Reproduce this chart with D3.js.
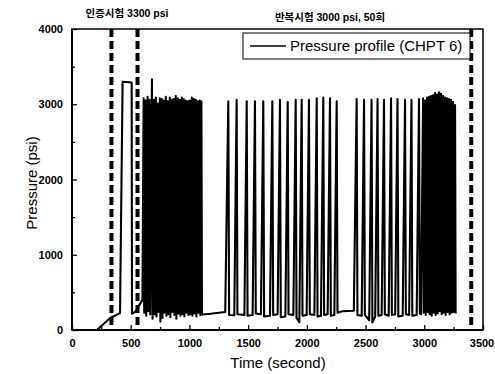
<!DOCTYPE html>
<html>
<head>
<meta charset="utf-8">
<script src="https://cdn.jsdelivr.net/npm/d3@7"></script>
<style>
  body { margin: 0; background: #fff; }
  svg text { font-family: "Liberation Sans", Arial, "Noto Sans CJK KR", sans-serif; fill: #000; }
</style>
</head>
<body>
<div id="chart-container"></div>
<script>
// ticks
const xTicks = [0, 500, 1000, 1500, 2000, 2500, 3000, 3500];
const xMinor = [250, 750, 1250, 1750, 2250, 2750, 3250];
const yTicks = [0, 1000, 2000, 3000, 4000];
const yMinor = [500, 1500, 2500, 3500];

// test boundaries (s)
const boundaryTimes = [336, 558, 3400];

// [time s, pressure psi]
const proofTest = [[213, 0], [325, 160], [409, 225], [431, 3300], [508, 3290], [511, 215], [540, 245], [600, 400]];

const cyclesDenseA = [
  [610, 3080], [615, 230], [627, 3050], [632, 190], [644, 3100], [649, 250], [661, 3060], [666, 210],
  [681, 3330], [686, 150], [697, 3060], [702, 210], [714, 3090], [719, 180], [731, 3010], [736, 240],
  [748, 3080], [753, 110], [765, 3070], [770, 160], [782, 3050], [787, 230], [799, 3100], [804, 190],
  [816, 3040], [821, 210], [833, 3090], [838, 170], [850, 3060], [855, 240], [867, 3070], [872, 200],
  [884, 3110], [889, 150], [901, 3080], [906, 220], [918, 3060], [923, 190], [935, 3090], [940, 210],
  [952, 3070], [957, 180], [969, 3050], [974, 230], [986, 3040], [991, 200], [1003, 3050], [1008, 210],
  [1020, 3090], [1025, 190], [1037, 3070], [1042, 220], [1054, 3060], [1059, 180], [1071, 3040], [1076, 230],
  [1088, 3050], [1093, 200], [1102, 3040], [1107, 205]
];

const holdA = [[1180, 215], [1305, 240]];

const cyclesMid = [
  [1331, 3040], [1338, 200], [1382, 195], [1402, 3060], [1409, 210], [1468, 200], [1488, 3040], [1495, 190],
  [1538, 200], [1558, 3040], [1565, 220], [1609, 210], [1629, 3040], [1636, 180], [1686, 190], [1706, 3040],
  [1713, 200], [1751, 210], [1771, 3060], [1778, 170], [1817, 180], [1837, 3030], [1844, 210], [1885, 200],
  [1905, 3060], [1912, 160], [1936, 105], [1956, 3060], [1963, 190], [1998, 200], [2018, 3060], [2025, 210],
  [2064, 200], [2084, 3080], [2091, 180], [2120, 190], [2140, 3090], [2147, 200], [2177, 210], [2197, 3080],
  [2204, 190], [2234, 200], [2254, 3040], [2261, 230]
];

const holdB = [[2300, 250], [2400, 255]];

const cyclesLate = [
  [2424, 3070], [2431, 200], [2467, 190], [2487, 3060], [2494, 200], [2531, 130], [2551, 3060], [2558, 100],
  [2582, 180], [2602, 3070], [2609, 190], [2637, 200], [2657, 3060], [2664, 210], [2697, 190], [2717, 3080],
  [2724, 200], [2752, 210], [2772, 3070], [2779, 180], [2816, 190], [2836, 3060], [2843, 210], [2871, 200],
  [2891, 3060], [2898, 190], [2935, 200], [2955, 3070], [2962, 220], [2972, 210]
];

const cyclesDenseB = [
  [2990, 3080], [2995, 230], [3007, 3050], [3012, 200], [3024, 3090], [3029, 240], [3041, 3100], [3046, 210],
  [3058, 3110], [3063, 190], [3075, 3120], [3080, 230], [3092, 3150], [3097, 200], [3109, 3130], [3114, 220],
  [3126, 3160], [3131, 250], [3143, 3140], [3148, 210], [3160, 3110], [3165, 230], [3177, 3090], [3182, 200],
  [3194, 3080], [3199, 240], [3211, 3070], [3216, 210], [3228, 3060], [3233, 230], [3245, 3030], [3250, 240],
  [3262, 2990], [3267, 220]
];

const profile = [].concat(proofTest, cyclesDenseA, holdA, cyclesMid, holdB, cyclesLate, cyclesDenseB);

const margin = { top: 29, right: 12, bottom: 44, left: 72 };
const width = 495 - margin.left - margin.right;
const height = 374 - margin.top - margin.bottom;

const root = d3.select("#chart-container").append("svg")
  .attr("width", 495).attr("height", 374);
const svg = root.append("g").attr("transform", `translate(${margin.left},${margin.top})`);

const x = d3.scaleLinear().domain([0, 3500]).range([0, width]);
const y = d3.scaleLinear().domain([0, 4000]).range([height, 0]);

// data line
const line = d3.line().x(d => x(d[0])).y(d => y(d[1]));
svg.append("path").datum(profile)
  .attr("fill", "none").attr("stroke", "#000").attr("stroke-width", 2.1)
  .attr("stroke-linejoin", "round").attr("d", line);

// dashed boundaries
svg.selectAll(".bound").data(boundaryTimes).enter().append("line")
  .attr("x1", d => x(d)).attr("x2", d => x(d))
  .attr("y1", y(4000)).attr("y2", y(0))
  .attr("stroke", "#000").attr("stroke-width", 4).attr("stroke-dasharray", "8,4");

// axes
const xAxis = svg.append("g").attr("transform", `translate(0,${height})`)
  .call(d3.axisBottom(x).tickValues(xTicks).tickSizeInner(-5).tickSizeOuter(0).tickPadding(9).tickFormat(d3.format("d")));
const xAxisMinor = svg.append("g").attr("transform", `translate(0,${height})`)
  .call(d3.axisBottom(x).tickValues(xMinor).tickSizeInner(-3).tickSizeOuter(0).tickFormat(""));
const yAxis = svg.append("g")
  .call(d3.axisLeft(y).tickValues(yTicks).tickSizeInner(-5).tickSizeOuter(0).tickPadding(9).tickFormat(d3.format("d")));
const yAxisMinor = svg.append("g")
  .call(d3.axisLeft(y).tickValues(yMinor).tickSizeInner(-3).tickSizeOuter(0).tickFormat(""));

[xAxis, xAxisMinor, yAxis, yAxisMinor].forEach(a => {
  a.select(".domain").remove();
  a.selectAll(".tick line").attr("stroke", "#000").attr("stroke-width", 1.3);
});
[xAxis, yAxis].forEach(a => {
  a.selectAll("text").style("font-size", "11px").style("font-weight", "bold").attr("fill", "#000");
});
// keep the last x label inside the page
xAxis.selectAll(".tick").filter(d => d === 3500).select("text").attr("dx", -1.5);

// frame
svg.append("rect").attr("width", width).attr("height", height)
  .attr("fill", "none").attr("stroke", "#000").attr("stroke-width", 1.5);
svg.append("line").attr("x1", 0).attr("x2", 0).attr("y1", 0).attr("y2", height)
  .attr("stroke", "#000").attr("stroke-width", 2);
svg.append("line").attr("x1", 0).attr("x2", width).attr("y1", height).attr("y2", height)
  .attr("stroke", "#000").attr("stroke-width", 2);

// axis titles
root.append("text").attr("x", 278).attr("y", 368).attr("text-anchor", "middle")
  .style("font-size", "15px").text("Time (second)");
root.append("text").attr("transform", "translate(37,183) rotate(-90)").attr("text-anchor", "middle")
  .style("font-size", "15px").text("Pressure (psi)");

// legend
const legend = root.append("g");
legend.append("rect").attr("x", 243).attr("y", 33).attr("width", 227).attr("height", 26)
  .attr("fill", "#fff").attr("stroke", "#000").attr("stroke-width", 1);
legend.append("line").attr("x1", 250).attr("x2", 286).attr("y1", 46).attr("y2", 46)
  .attr("stroke", "#000").attr("stroke-width", 1.6);
legend.append("text").attr("x", 290).attr("y", 51).style("font-size", "15px")
  .text("Pressure profile (CHPT 6)");

// annotations
root.append("text").attr("x", 127).attr("y", 17).attr("text-anchor", "middle")
  .style("font-size", "10.5px").style("font-weight", "bold").text("인증시험 3300 psi");
root.append("text").attr("x", 330).attr("y", 21).attr("text-anchor", "middle")
  .style("font-size", "10.5px").style("font-weight", "bold").text("반복시험 3000 psi, 50회");
</script>
</body>
</html>
